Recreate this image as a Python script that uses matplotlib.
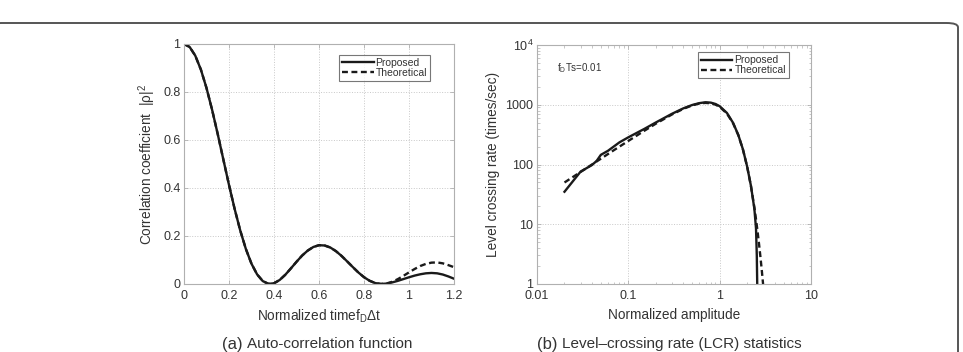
import matplotlib
matplotlib.use("Agg")
import matplotlib.pyplot as plt
from matplotlib.patches import FancyBboxPatch
from matplotlib.ticker import FixedLocator, NullFormatter, LogLocator

plt.rcParams['font.family'] = ['Liberation Sans', 'DejaVu Sans']
plt.rcParams['mathtext.fontset'] = 'custom'
plt.rcParams['mathtext.rm'] = 'Liberation Sans'
plt.rcParams['mathtext.it'] = 'Liberation Sans'

# ---- (a) auto-correlation data ----
acf_t = [0.0, 0.025, 0.05, 0.075, 0.1, 0.125, 0.15, 0.175, 0.2, 0.225, 0.25, 0.275,
         0.3, 0.325, 0.35, 0.375, 0.4, 0.425, 0.45, 0.475, 0.5, 0.525, 0.55, 0.575,
         0.6, 0.625, 0.65, 0.675, 0.7, 0.725, 0.75, 0.775, 0.8, 0.825, 0.85, 0.875,
         0.9, 0.925, 0.95, 0.975, 1.0, 1.025, 1.05, 1.075, 1.1, 1.125, 1.15, 1.175, 1.2]
acf_theory = [1.0, 0.9877, 0.9516, 0.8935, 0.8167, 0.7253, 0.6243, 0.5181, 0.4127, 0.3129,
              0.2228, 0.1458, 0.0844, 0.0399, 0.0122, 0.0007, 0.0030, 0.0166, 0.0383, 0.0649,
              0.0925, 0.1185, 0.1393, 0.1543, 0.1616, 0.1604, 0.1522, 0.1371, 0.1172, 0.0943,
              0.0708, 0.0480, 0.0284, 0.0134, 0.0038, 0.0001, 0.0020, 0.0091, 0.0201, 0.0337,
              0.0485, 0.0625, 0.0749, 0.0838, 0.0890, 0.0899, 0.0861, 0.0786, 0.0700]
acf_proposed = [1.0, 0.9877, 0.9516, 0.8935, 0.8167, 0.7253, 0.6243, 0.5181, 0.4127, 0.3129,
                0.2228, 0.1458, 0.0844, 0.0399, 0.0122, 0.0007, 0.0030, 0.0166, 0.0383, 0.0649,
                0.0925, 0.1185, 0.1393, 0.1543, 0.1616, 0.1604, 0.1522, 0.1371, 0.1172, 0.0943,
                0.0708, 0.0480, 0.0284, 0.0134, 0.0038, 0.0001, 0.0018, 0.0065, 0.0130, 0.0205,
                0.0280, 0.0350, 0.0405, 0.0445, 0.0460, 0.0445, 0.0395, 0.0315, 0.0220]

# ---- (b) level crossing rate data ----
lcr_rho_th = [0.02, 0.03, 0.05, 0.07, 0.1, 0.15, 0.2, 0.3, 0.4, 0.5, 0.6, 0.7, 0.8, 0.9,
              1.0, 1.2, 1.4, 1.6, 1.8, 2.0, 2.2, 2.4, 2.5, 2.6, 2.7, 2.8, 2.9, 3.0]
lcr_theory = [50, 75, 125, 175, 248, 368, 482, 687, 854, 976, 1049, 1075, 1057, 1004,
              922, 713, 494, 310, 177, 91.8, 43.6, 19.0, 12.1, 7.55, 4.62, 2.77, 1.62, 0.93]
lcr_rho_pr = [0.02, 0.03, 0.04, 0.045, 0.05, 0.06, 0.08, 0.1, 0.15, 0.2, 0.3, 0.4, 0.5,
              0.6, 0.7, 0.8, 0.9, 1.0, 1.2, 1.4, 1.6, 1.8, 2.0, 2.2, 2.4, 2.5, 2.55, 2.58]
lcr_proposed = [35, 76, 98, 115, 145, 170, 235, 285, 395, 505, 705, 870, 990,
                1065, 1100, 1085, 1030, 945, 730, 500, 312, 178, 92, 44, 18, 8.5, 3.0, 0.9]

W, H = 963, 352
fig = plt.figure(figsize=(W / 100, H / 100), dpi=100)

# rounded border
border = FancyBboxPatch((-10 / W, -20 / H), (958 + 10) / W, (352 - 23 + 20) / H,
                        boxstyle="round,pad=0,rounding_size=0.012",
                        transform=fig.transFigure, fill=False,
                        edgecolor='#555555', linewidth=1.4, clip_on=False)
fig.patches.append(border)

spine_col = '#b0b0b0'
tick_col = '#333333'
lab_fs = 9.8


def style_axes(ax):
    for s in ax.spines.values():
        s.set_color(spine_col)
        s.set_linewidth(0.8)
    ax.tick_params(direction='in', colors=spine_col, labelcolor=tick_col,
                   labelsize=9, length=3, width=0.6, top=True, right=True, pad=2.5)
    ax.tick_params(axis='x', pad=4.5)
    ax.tick_params(which='minor', direction='in', colors=spine_col, length=1.8,
                   width=0.5, top=True, right=True)
    ax.grid(True, which='major', linestyle=':', color='#c8c8c8', linewidth=0.7)


def style_legend(leg):
    leg.get_frame().set_edgecolor('#555555')
    leg.get_frame().set_linewidth(0.8)
    for t in leg.get_texts():
        t.set_color('#333333')


# ---- axes (a) ----
ax1 = fig.add_axes([184 / W, 1 - 284 / H, (454 - 184) / W, (284 - 44) / H])
ax1.plot(acf_t, acf_proposed, color='#1a1a1a', lw=1.7, label='Proposed')
ax1.plot(acf_t, acf_theory, color='#1a1a1a', lw=1.7, ls=(0, (2.5, 1.5)), label='Theoretical')
ax1.set_xlim(0, 1.2)
ax1.set_ylim(0, 1)
ax1.set_xticks([0, 0.2, 0.4, 0.6, 0.8, 1.0, 1.2])
ax1.set_xticklabels(['0', '0.2', '0.4', '0.6', '0.8', '1', '1.2'])
ax1.set_yticks([0, 0.2, 0.4, 0.6, 0.8, 1.0])
ax1.set_yticklabels(['0', '0.2', '0.4', '0.6', '0.8', '1'])
style_axes(ax1)
ax1.set_xlabel('Normalized timef$_\\mathregular{D}$Δt', fontsize=lab_fs, color='#333333', labelpad=4)
ax1.set_ylabel('Correlation coefficient  |ρ|$^\\mathregular{2}$', fontsize=lab_fs,
               color='#333333', labelpad=4)
leg1 = ax1.legend(loc='upper right', bbox_to_anchor=(0.912, 0.955), fontsize=7.5,
                  frameon=True, fancybox=False, handlelength=3.0, handletextpad=0.2,
                  borderpad=0.3, labelspacing=0.0, borderaxespad=0)
style_legend(leg1)

# ---- axes (b) ----
ax2 = fig.add_axes([537 / W, 1 - 284 / H, (811 - 537) / W, (284 - 45) / H])
ax2.plot(lcr_rho_pr, lcr_proposed, color='#1a1a1a', lw=1.7, label='Proposed')
ax2.plot(lcr_rho_th, lcr_theory, color='#1a1a1a', lw=1.7, ls=(0, (2.5, 1.5)), label='Theoretical')
ax2.set_xscale('log')
ax2.set_yscale('log')
ax2.set_xlim(0.01, 10)
ax2.set_ylim(1, 1e4)
ax2.xaxis.set_major_locator(FixedLocator([0.01, 0.1, 1, 10]))
ax2.set_xticklabels(['0.01', '0.1', '1', '10'])
ax2.yaxis.set_major_locator(FixedLocator([1, 10, 100, 1000, 10000]))
ax2.set_yticklabels(['1', '10', '100', '1000', '10$^\\mathregular{4}$'])
ax2.xaxis.set_minor_locator(LogLocator(base=10, subs=range(2, 10)))
ax2.yaxis.set_minor_locator(LogLocator(base=10, subs=range(2, 10)))
ax2.xaxis.set_minor_formatter(NullFormatter())
ax2.yaxis.set_minor_formatter(NullFormatter())
style_axes(ax2)
ax2.set_xlabel('Normalized amplitude', fontsize=lab_fs, color='#333333', labelpad=4)
ax2.set_ylabel('Level crossing rate (times/sec)', fontsize=lab_fs, color='#333333', labelpad=4)
ax2.text(0.072, 0.905, 'f$_\\mathregular{D}$Ts=0.01', transform=ax2.transAxes,
         fontsize=7, color='#333333', va='center', ha='left')
leg2 = ax2.legend(loc='upper right', bbox_to_anchor=(0.92, 0.97), fontsize=7.5,
                  frameon=True, fancybox=False, handlelength=3.0, handletextpad=0.2,
                  borderpad=0.3, labelspacing=0.0, borderaxespad=0)
style_legend(leg2)

# captions
fig.text(243 / W, 1 - 344 / H, '(a)', fontsize=12, color='#333333', ha='right', va='center')
fig.text(247 / W, 1 - 344 / H, 'Auto-correlation function', fontsize=11, color='#333333',
         ha='left', va='center')
fig.text(558 / W, 1 - 344 / H, '(b)', fontsize=12, color='#333333', ha='right', va='center')
fig.text(562 / W, 1 - 344 / H, 'Level–crossing rate (LCR) statistics', fontsize=11,
         color='#333333', ha='left', va='center')

fig.savefig('out.png', dpi=100)
